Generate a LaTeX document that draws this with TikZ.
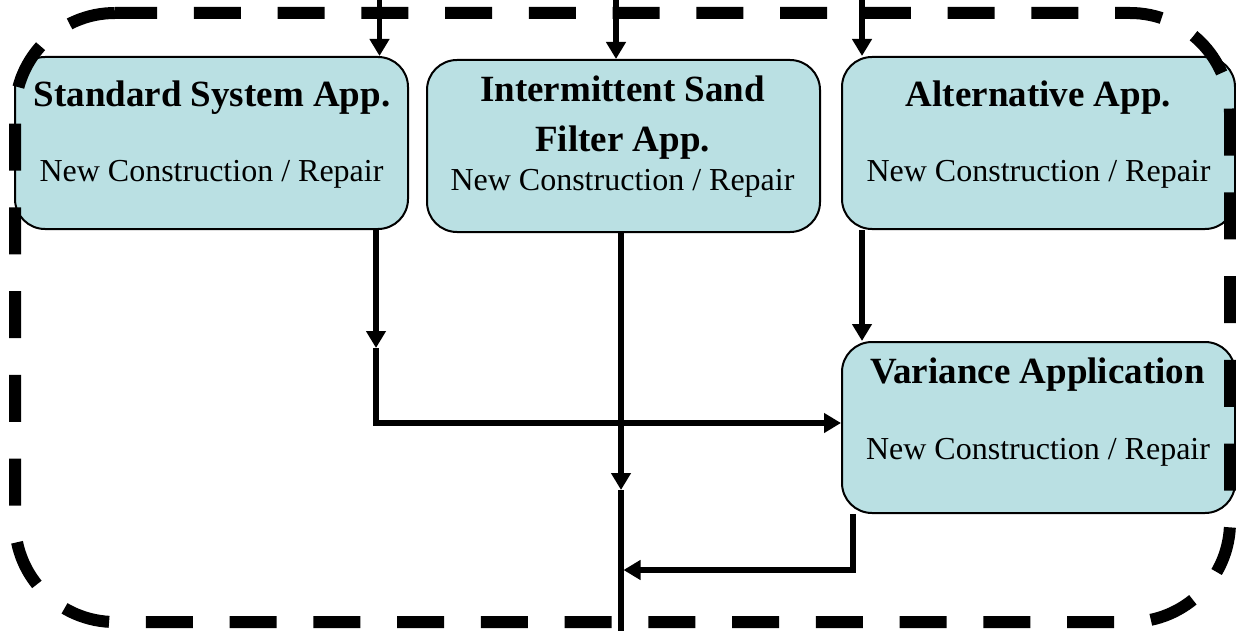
\documentclass[tikz,border=0pt]{standalone}
\usepackage{fontspec}
\setmainfont{Liberation Serif}
\usetikzlibrary{arrows.meta}
\definecolor{boxfill}{RGB}{186,224,227}
\begin{document}
\begin{tikzpicture}[x=1pt,y=-1pt,
  appbox/.style={draw=black, line width=2pt, fill=boxfill, rounded corners=30pt,
    minimum width=393pt, minimum height=172pt, inner sep=0pt},
  ttl/.style={font=\fontsize{37}{44}\selectfont\bfseries, anchor=base, inner sep=0pt},
  sub/.style={font=\fontsize{32}{38}\selectfont, anchor=base, inner sep=0pt},
  conn/.style={line width=5.5pt, draw=black},
  arr/.style={conn, -{Triangle[length=17pt,width=19pt]}},
  border/.style={line width=12pt, dash pattern=on 47pt off 36.76pt, dash phase=5pt, rounded corners=100pt}
]
\useasboundingbox (0,0) rectangle (1236,631);

% boxes
\node[appbox] (b1) at (211.5,143) {};
\node[appbox] (b2) at (623.5,146) {};
\node[appbox] (b3) at (1038.5,143) {};
\node[appbox, minimum height=171pt] (var) at (1038.5,427.5) {};

% texts
\node[ttl] (b1t) at (212,107) {Standard System App.};
\node[sub] (b1s) at (211.5,182) {New Construction / Repair};
\node[ttl] (b2ta) at (622.5,102) {Intermittent Sand};
\node[ttl] (b2tb) at (622.5,152) {Filter App.};
\node[sub] (b2s) at (622.5,190) {New Construction / Repair};
\node[ttl] (b3t) at (1038.5,107) {Alternative App.};
\node[sub] (b3s) at (1038.5,182) {New Construction / Repair};
\node[ttl] (vt) at (1037.5,383) {Variance Application};
\node[sub] (vs) at (1038,459) {New Construction / Repair};

% dashed boundary
\draw[border] (115,13) -- (1230,13) -- (1230,622) -- (15,622) -- (15,13) -- (115,13);

% coordinates for connectors
\coordinate (top1) at (379.5,0);
\coordinate (top2) at (616,0);
\coordinate (top3) at (862,0);
\coordinate (m1) at (376,348);
\coordinate (m2) at (621,490);
\coordinate (e2) at (621,631);
\coordinate (vx) at (853,570);
\coordinate (j) at (623.5,570);

% incoming arrows
\draw[arr] (top1) -- (top1 |- b1.north);
\draw[arr] (top2) -- (top2 |- b2.north);
\draw[arr] (top3) -- (top3 |- b3.north);

% standard -> variance
\draw[arr] (b1.south -| m1) -- (m1);
\draw[arr] (m1) |- ([yshift=4.5pt]var.west);

% intermittent sand filter -> out
\draw[arr] (b2.south -| m2) -- (m2);
\draw[conn] (m2) -- (e2);

% alternative -> variance
\draw[arr] (b3.south -| top3) -- (var.north -| top3);

% variance -> out
\draw[arr] (var.south -| vx) |- (j);
\end{tikzpicture}
\end{document}
